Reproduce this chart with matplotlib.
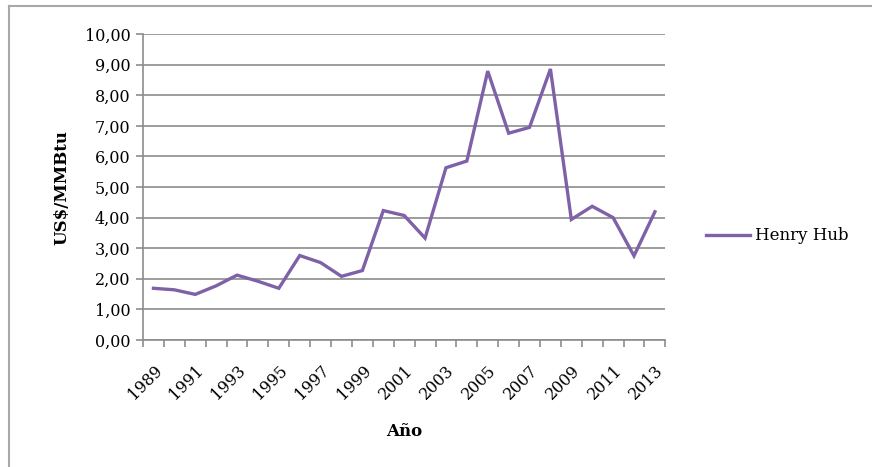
import numpy as np
import matplotlib
matplotlib.use('Agg')
import matplotlib.pyplot as plt
from matplotlib.lines import Line2D

# Annual Henry Hub prices (US$/MMBtu)
years = list(range(1989, 2014))
prices = [1.69, 1.64, 1.49, 1.77, 2.12, 1.92, 1.69, 2.76, 2.53, 2.08,
          2.27, 4.23, 4.07, 3.33, 5.63, 5.85, 8.79, 6.76, 6.95, 8.86,
          3.94, 4.37, 4.00, 2.75, 4.19]
series_name = 'Henry Hub'

plt.rcParams['font.family'] = ['DejaVu Serif']

fig = plt.figure(figsize=(8.72, 4.67), dpi=100)
ax = fig.add_axes([0.164, 0.272, 0.599, 0.655])

# outer chart frame (only top and left edges visible in the crop)
fig.add_artist(Line2D([0.0105, 1.0], [0.987, 0.987], transform=fig.transFigure,
                      color='#a8a8a8', linewidth=1.5))
fig.add_artist(Line2D([0.0105, 0.0105], [0.0, 0.987], transform=fig.transFigure,
                      color='#a8a8a8', linewidth=1.5))

x = np.arange(len(years))
ax.plot(x, prices, color='#7f61a8', linewidth=2.4, label=series_name,
        solid_joinstyle='miter')

ax.set_xlim(-0.5, len(years) - 0.5)
ax.set_ylim(0, 10)
ax.set_yticks(np.arange(0, 11, 1))
ax.set_yticklabels([f'{v:.2f}'.replace('.', ',') for v in range(0, 11)], fontsize=11.5)

# labels every other year at the category centres, ticks between categories
ax.set_xticks(x[::2])
ax.set_xticklabels([str(y) for y in years[::2]], rotation=45, ha='right',
                   rotation_mode='anchor', fontsize=11.5)
ax.tick_params(axis='x', which='major', length=0, pad=16)
ax.set_xticks(np.arange(-0.5, len(years)), minor=True)
ax.tick_params(axis='x', which='minor', length=5, color='#8c8c8c', width=1.2)
ax.tick_params(axis='y', length=5, color='#8c8c8c', width=1.2, pad=4)

ax.grid(axis='y', color='#8c8c8c', linewidth=1.2)
ax.set_axisbelow(True)
for side in ['top', 'right']:
    ax.spines[side].set_visible(False)
for side in ['left', 'bottom']:
    ax.spines[side].set_color('#8c8c8c')
    ax.spines[side].set_linewidth(1.2)

ax.set_ylabel('US$/MMBtu', fontsize=12, fontweight='bold', labelpad=10)
ax.set_xlabel('Año', fontsize=12, fontweight='bold', labelpad=14)

ax.legend(loc='center left', bbox_to_anchor=(1.05, 0.34), frameon=False,
          fontsize=12, handlelength=2.6, handletextpad=0.3)

fig.savefig('out.png', dpi=100)
